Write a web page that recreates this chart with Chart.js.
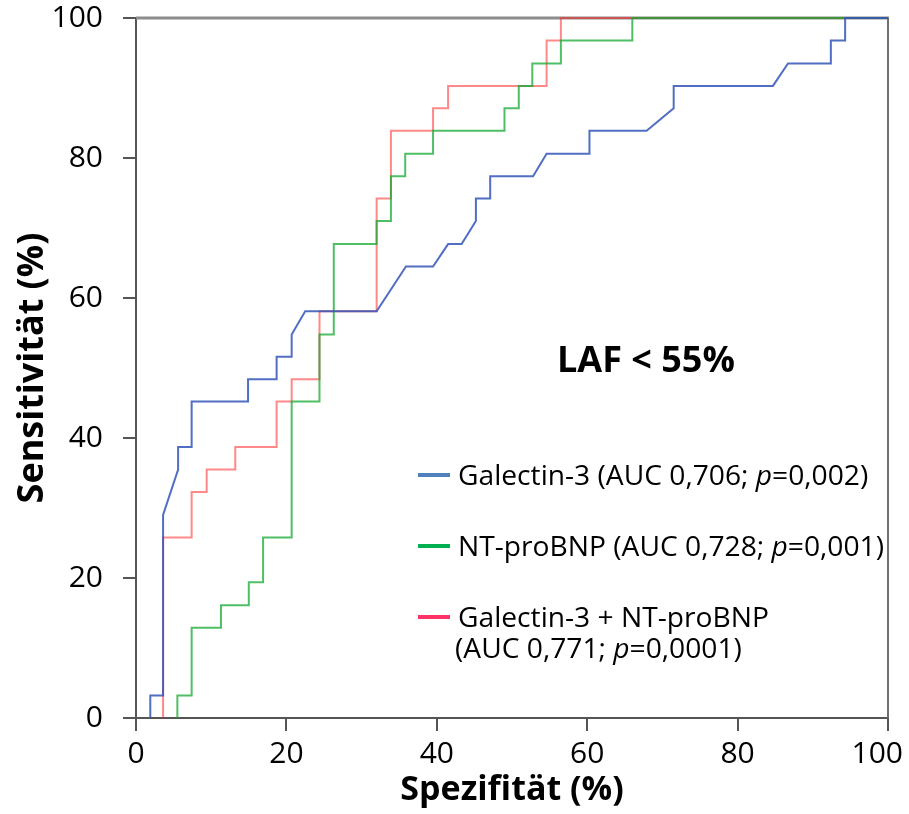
<!DOCTYPE html>
<html>
<head>
<meta charset="utf-8">
<script src="https://cdn.jsdelivr.net/npm/chart.js@4.4.1/dist/chart.umd.min.js"></script>
<style>
  html, body { margin: 0; padding: 0; background: #fff; }
</style>
</head>
<body>
<canvas id="roc" width="909" height="814"></canvas>
<script>
// ROC curves (LAF < 55%), x = Spezifität, y = Sensitivität
const axisTicks = [0, 20, 40, 60, 80, 100];

const galectinSpec = [1.9, 1.9, 3.6, 3.6, 5.6, 5.6, 7.4, 7.4, 14.9, 14.9, 18.7, 18.7, 20.7, 20.7, 22.5, 32.0, 35.9, 39.5, 41.5, 43.3, 45.2, 45.2, 47.1, 47.1, 52.8, 54.6, 60.3, 60.3, 67.9, 71.5, 71.5, 84.7, 86.7, 92.4, 92.4, 94.3, 94.3, 100];
const galectinSens = [0, 3.2, 3.2, 29.0, 35.5, 38.7, 38.7, 45.2, 45.2, 48.4, 48.4, 51.6, 51.6, 54.8, 58.1, 58.1, 64.5, 64.5, 67.7, 67.7, 71.0, 74.2, 74.2, 77.4, 77.4, 80.6, 80.6, 83.9, 83.9, 87.1, 90.3, 90.3, 93.5, 93.5, 96.8, 96.8, 100, 100];

const ntSpec = [5.5, 5.5, 7.4, 7.4, 11.3, 11.3, 15.0, 15.0, 16.9, 16.9, 20.7, 20.7, 24.4, 24.4, 26.3, 26.3, 32.0, 32.0, 33.9, 33.9, 35.8, 35.8, 39.5, 39.5, 49.0, 49.0, 50.9, 50.9, 52.7, 52.7, 56.5, 56.5, 66.0, 66.0, 100];
const ntSens = [0, 3.2, 3.2, 12.9, 12.9, 16.1, 16.1, 19.4, 19.4, 25.8, 25.8, 45.2, 45.2, 54.8, 54.8, 67.7, 67.7, 71.0, 71.0, 77.4, 77.4, 80.6, 80.6, 83.9, 83.9, 87.1, 87.1, 90.3, 90.3, 93.5, 93.5, 96.8, 96.8, 100, 100];

const comboSpec = [3.6, 3.6, 7.4, 7.4, 9.4, 9.4, 13.2, 13.2, 18.7, 18.7, 20.7, 20.7, 24.4, 24.4, 32.0, 32.0, 33.9, 33.9, 39.5, 39.5, 41.5, 41.5, 54.6, 54.6, 56.5, 56.5, 100];
const comboSens = [0, 25.8, 25.8, 32.3, 32.3, 35.5, 35.5, 38.7, 38.7, 45.2, 45.2, 48.4, 48.4, 58.1, 58.1, 74.2, 74.2, 83.9, 83.9, 87.1, 87.1, 90.3, 90.3, 96.8, 96.8, 100, 100];

// legend text, "_" marks italic parts, "\n" a second line
const seriesNames = [
  "Galectin-3 (AUC 0,706; _p_=0,002)",
  "NT-proBNP (AUC 0,728; _p_=0,001)",
  "Galectin-3 + NT-proBNP\n(AUC 0,771; _p_=0,0001)"
];
const panelLabel = "LAF < 55%";

const FONT = "'Open Sans', 'Noto Sans', sans-serif";
const lineColors = ["rgba(50,85,185,0.85)", "rgba(20,170,50,0.75)", "rgba(255,40,40,0.55)"];
const keyColors = ["#4F81BD", "#00B050", "#FF3366"];

const toPoints = (xs, ys) => xs.map((x, i) => ({ x, y: ys[i] }));

// grey top / right frame behind the curves
const frame = {
  id: "frame",
  beforeDatasetsDraw(chart) {
    const { ctx, chartArea: a } = chart;
    ctx.save();
    ctx.strokeStyle = "#8c8c8c";
    ctx.lineWidth = 3;
    ctx.beginPath();
    ctx.moveTo(a.left, a.top);
    ctx.lineTo(a.right + 1, a.top);
    ctx.stroke();
    ctx.strokeStyle = "#707070";
    ctx.lineWidth = 2;
    ctx.beginPath();
    ctx.moveTo(a.right, a.top);
    ctx.lineTo(a.right, a.bottom);
    ctx.stroke();
    ctx.restore();
  }
};

// last x label is kept inside the canvas like the original
const lastTickInside = {
  id: "lastTickInside",
  beforeDraw(chart) {
    const items = chart.scales.x.getLabelItems(chart.chartArea);
    const last = items[items.length - 1];
    if (!last) return;
    last.options.textAlign = "right";
    last.options.translation[0] = chart.width - 6;
  }
};

function drawRich(ctx, text, x, y, size) {
  text.split("_").forEach((part, k) => {
    ctx.font = (k % 2 ? "italic " : "") + size + "px " + FONT;
    ctx.fillText(part, x, y);
    x += ctx.measureText(part).width;
  });
}

const keyAndLabel = {
  id: "keyAndLabel",
  afterDraw(chart, args, opts) {
    const { ctx } = chart;
    ctx.save();
    ctx.fillStyle = "#000";
    ctx.textBaseline = "alphabetic";
    ctx.textAlign = "left";
    ctx.font = "bold 36px " + FONT;
    ctx.fillText(panelLabel, opts.labelX, opts.labelY);

    seriesNames.forEach((name, i) => {
      const yMid = opts.rows[i];
      ctx.strokeStyle = keyColors[i];
      ctx.lineWidth = 4;
      ctx.beginPath();
      ctx.moveTo(opts.lineX0, yMid);
      ctx.lineTo(opts.lineX1, yMid);
      ctx.stroke();
      ctx.fillStyle = "#000";
      name.split("\n").forEach((line, j) => {
        drawRich(ctx, line, opts.textX - (j ? 3 : 0), yMid + 10 + j * opts.wrap, opts.size);
      });
    });
    ctx.restore();
  }
};

new Chart(document.getElementById("roc"), {
  type: "scatter",
  data: {
    datasets: [
      { data: toPoints(galectinSpec, galectinSens), borderColor: lineColors[0] },
      { data: toPoints(ntSpec, ntSens), borderColor: lineColors[1] },
      { data: toPoints(comboSpec, comboSens), borderColor: lineColors[2] }
    ].map(d => ({ ...d, showLine: true, pointRadius: 0, borderWidth: 2, tension: 0, fill: false, clip: 4 }))
  },
  options: {
    responsive: false,
    animation: false,
    layout: { padding: { left: 0, top: 18, right: 21, bottom: 0 } },
    plugins: {
      legend: { display: false },
      tooltip: { enabled: false },
      keyAndLabel: {
        labelX: 557, labelY: 372,
        rows: [475, 546, 617], wrap: 31,
        lineX0: 418, lineX1: 450, textX: 458, size: 28.2
      }
    },
    scales: {
      x: {
        type: "linear", min: 0, max: 100,
        afterBuildTicks: s => { s.ticks = axisTicks.map(v => ({ value: v })); },
        afterFit: s => { s.height = 96; s.paddingLeft = 0; s.paddingRight = 0; },
        grid: { drawOnChartArea: false, drawTicks: true, tickLength: 13, color: "#555", lineWidth: 2 },
        border: { display: true, color: "#555", width: 2 },
        ticks: { color: "#000", padding: 5, maxRotation: 0, font: { family: FONT, size: 30 } },
        title: { display: true, text: "Spezifität (%)", color: "#000", padding: { top: 0, bottom: 3 }, font: { family: FONT, size: 34, weight: "bold" } }
      },
      y: {
        type: "linear", min: 0, max: 100,
        afterBuildTicks: s => { s.ticks = axisTicks.map(v => ({ value: v })); },
        afterFit: s => { s.width = 136; s.paddingTop = 0; s.paddingBottom = 0; },
        grid: { drawOnChartArea: false, drawTicks: true, tickLength: 13, color: "#555", lineWidth: 2 },
        border: { display: true, color: "#555", width: 2 },
        ticks: { color: "#000", padding: 20, font: { family: FONT, size: 30 } },
        title: { display: true, text: "Sensitivität (%)", color: "#000", padding: { top: 11, bottom: 0 }, font: { family: FONT, size: 36, weight: "bold" } }
      }
    }
  },
  plugins: [frame, lastTickInside, keyAndLabel]
});
</script>
</body>
</html>
